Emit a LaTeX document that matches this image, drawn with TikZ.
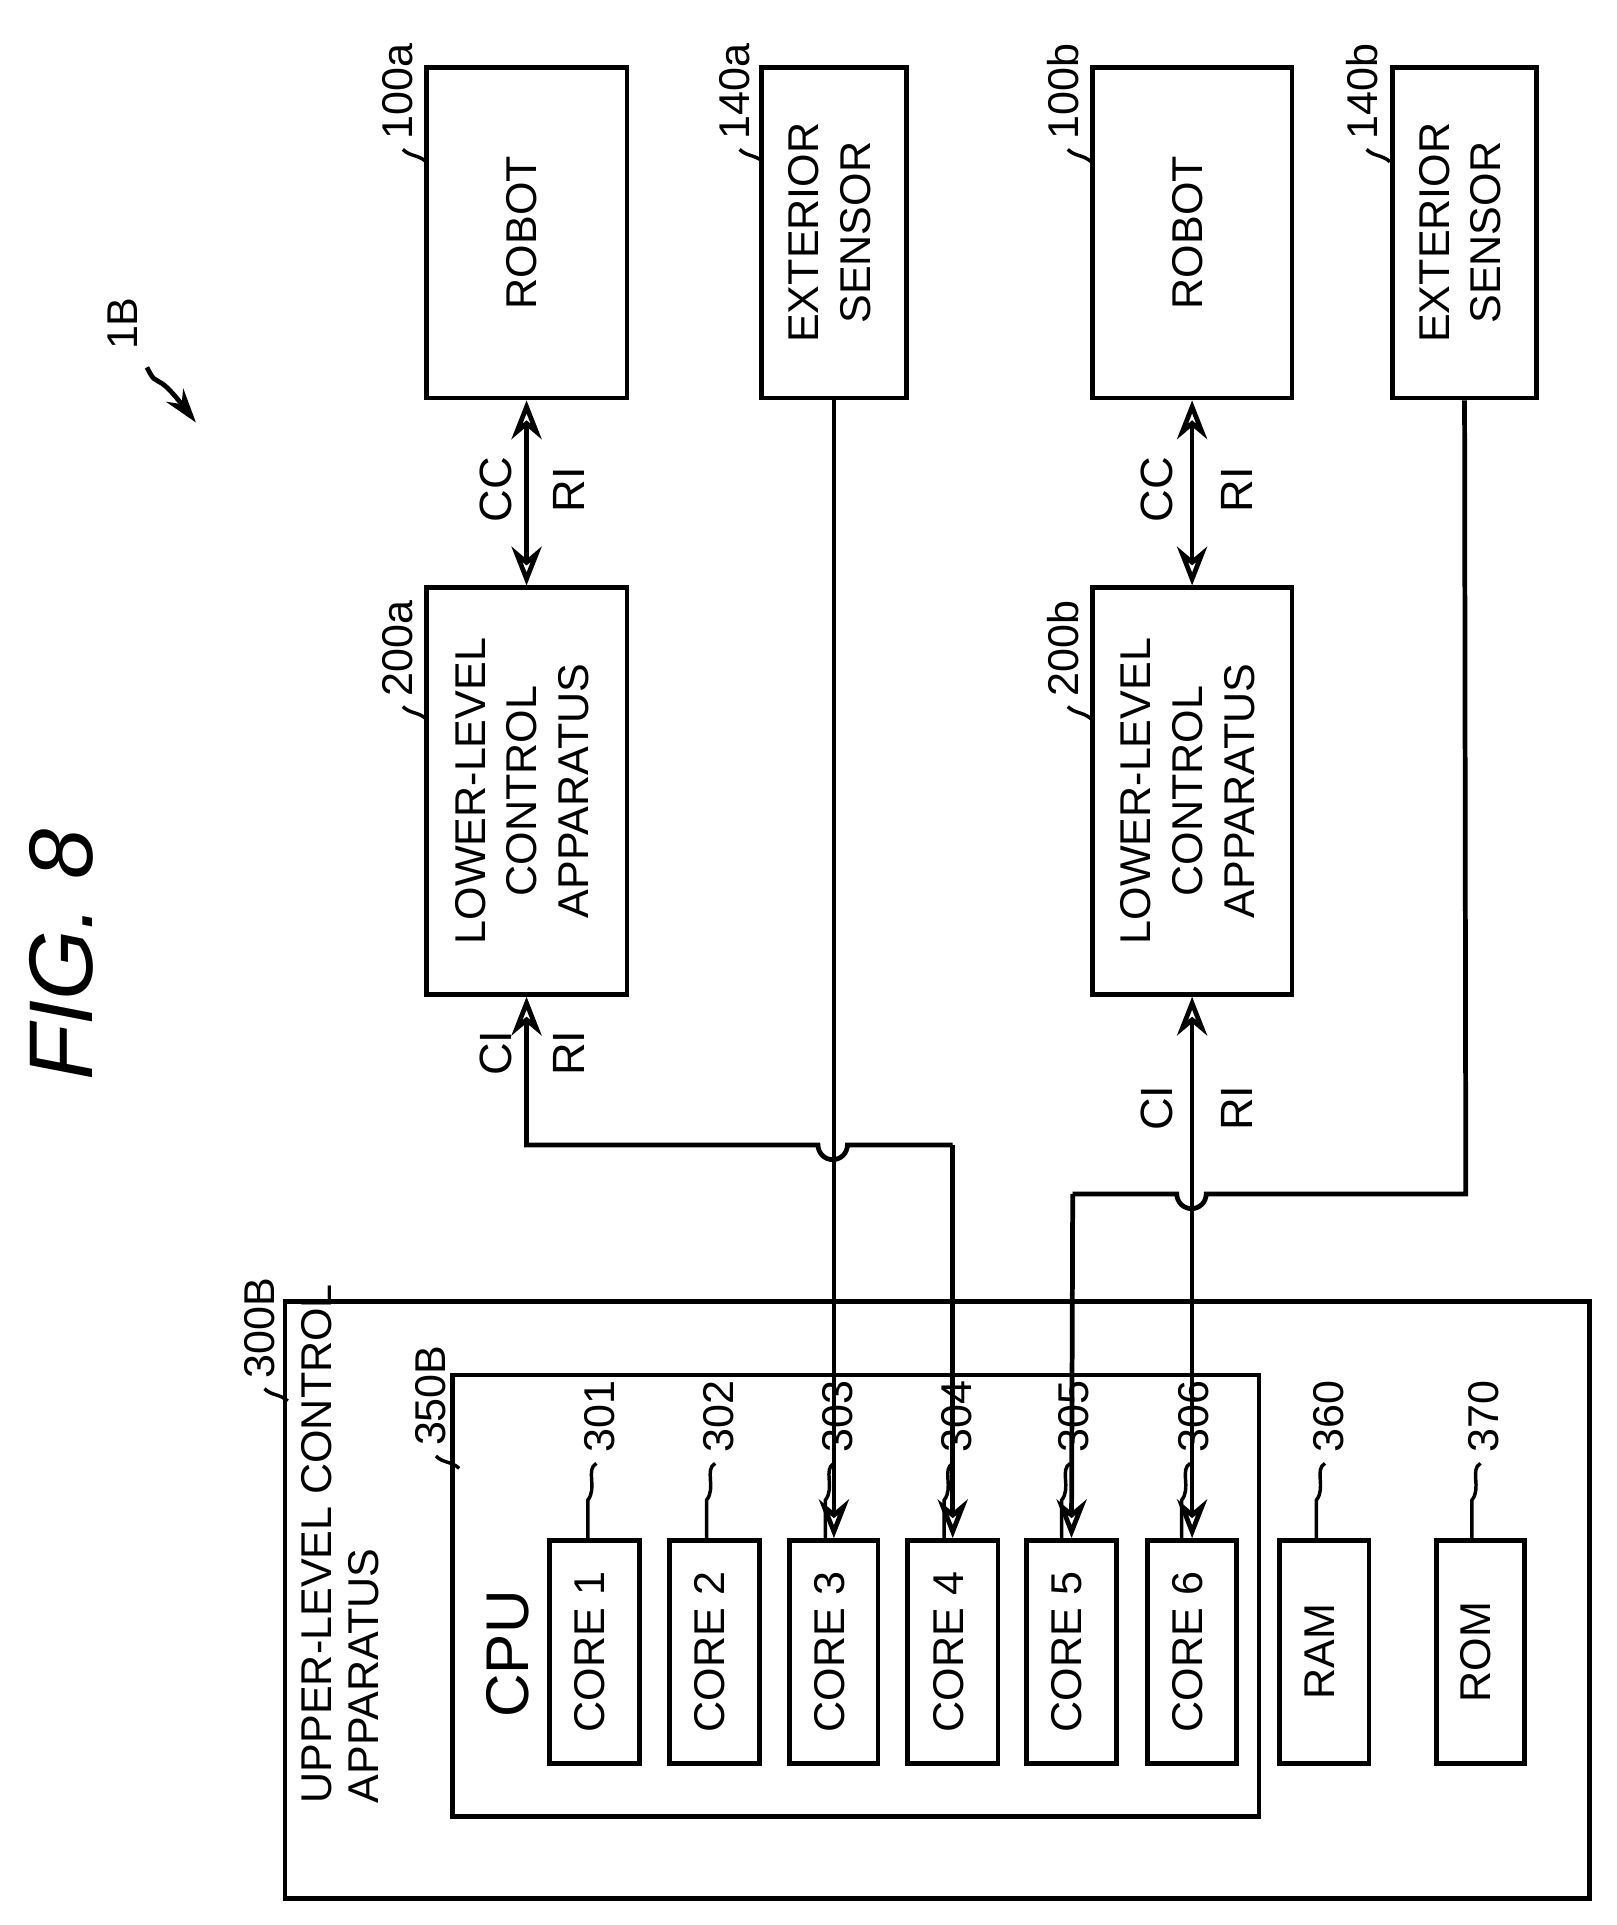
\documentclass[tikz,border=0pt]{standalone}
\usepackage{fontspec}
\setmainfont{Liberation Sans}
\usetikzlibrary{arrows.meta}
\begin{document}
\begin{tikzpicture}[x=0.01cm,y=-0.01cm,
 box/.style={draw,line width=1.1pt,inner sep=0pt,align=center,font=\fontsize{10}{12}\selectfont},
 lab/.style={rotate=90,font=\fontsize{10.5}{12.5}\selectfont},
 ref/.style={rotate=90,font=\fontsize{10}{12}\selectfont,anchor=west,inner sep=1pt},
 ln/.style={line width=1.1pt},
 arr/.style={ln,-{Stealth[length=9pt,width=7pt,open]}},
 darr/.style={ln,{Stealth[length=9pt,width=7pt,open]}-{Stealth[length=9pt,width=7pt,open]}}]
\useasboundingbox (0,0) rectangle (1320,1572);
\def\bx#1#2#3#4#5#6{\node[box,minimum width={(#4-#2)*0.01cm},minimum height={(#5-#3)*0.01cm}] (#1) at ({(#2+#4)/2},{(#3+#5)/2}) {\rotatebox{90}{\begin{tabular}{c}#6\end{tabular}}};}
% outer boxes
\node[draw,line width=1.1pt,minimum width=10.65cm,minimum height=4.87cm] (up) at (765.5,1306.5) {};
\node[draw,line width=1.1pt,minimum width=6.58cm,minimum height=3.6cm] (cpu) at (699,1303) {};
\node[lab,anchor=west,align=left,font=\fontsize{10}{11}\selectfont] (uptxt) at (278,1485) {UPPER-LEVEL CONTROL\\APPARATUS};
\node[lab,font=\fontsize{14}{16}\selectfont,anchor=west] (cputxt) at (415,1415) {CPU};
\bx{c1}{449}{1258}{522}{1440}{CORE 1}
\bx{c2}{547}{1258}{620}{1440}{CORE 2}
\bx{c3}{645}{1258}{717}{1440}{CORE 3}
\bx{c4}{741}{1258}{815}{1440}{CORE 4}
\bx{c5}{838}{1258}{912}{1440}{CORE 5}
\bx{c6}{937}{1258}{1010}{1440}{CORE 6}
\bx{ram}{1045}{1258}{1118}{1440}{RAM}
\bx{rom}{1173}{1258}{1245}{1440}{ROM}
\bx{ra}{348}{55}{512}{325}{ROBOT}
\bx{sa}{622}{55}{740}{325}{EXTERIOR\\SENSOR}
\bx{rb}{892}{55}{1055}{325}{ROBOT}
\bx{sb}{1137}{55}{1255}{325}{EXTERIOR\\SENSOR}
\bx{la}{348}{480}{512}{812}{LOWER-LEVEL\\CONTROL\\APPARATUS}
\bx{lb}{892}{480}{1055}{812}{LOWER-LEVEL\\CONTROL\\APPARATUS}
% title
\node[rotate=90,font=\itshape\fontsize{21}{23}\selectfont] (fig) at (50,780) {FIG. 8};
\node[ref] (n1b) at (100,290) {1B};
\coordinate (p1b) at (160,345);
\draw[ln,-{Stealth[length=8pt,width=5pt]}] (120,300) .. controls (130,320) and (125,300) .. (p1b);
% reference numerals
\foreach \n/\x/\y/\t in {r100a/325/118/100a,r140a/600/118/140a,r100b/868/118/100b,r140b/1112/118/140b,r200a/325/573/200a,r200b/868/573/200b,r300b/212/1130/300B,r350b/352/1185/350B}{
 \node[ref] (\n) at (\x,\y) {\t};
 \draw[line width=0.8pt] (\x+4,\y+4) .. controls (\x+10,\y+10) and (\x+16,\y+8) .. (\x+23,\y+14);}
\foreach \n/\x/\t in {k1/490/301,k2/587/302,k3/684/303,k4/781/304,k5/877/305,k6/975/306,k7/1085/360,k8/1212/370}{
 \node[ref] (\n) at (\x,1190) {\t};
 \draw[line width=0.8pt] (\x-3,1195) .. controls (\x-12,1200) and (\x-2,1215) .. (\x-10,1225) -- (\x-10,1258);}
% connectors
\draw[darr] (ra.south) -- (la.north);
\draw[darr] (rb.south) -- (lb.north);
\node[lab] (cca) at (405,400) {CC}; \node[lab] (ria) at (465,400) {RI};
\node[lab] (ccb) at (945,400) {CC}; \node[lab] (rib) at (1010,400) {RI};
\node[lab] (cia) at (405,860) {CI}; \node[lab] (ria2) at (465,860) {RI};
\node[lab] (cib) at (945,905) {CI}; \node[lab] (rib2) at (1010,905) {RI};
\coordinate (a1) at (430,935); \coordinate (a2) at (778,935);
\draw[ln,{Stealth[length=9pt,width=7pt,open]}-] (la.south) -- (a1) -- (668,935) arc (180:0:12) -- (a2);
\draw[arr] (a2) -- (c4.north);
\draw[arr] (sa.south) -- (c3.north);
\draw[darr] (lb.south) -- (c6.north);
\coordinate (b1) at (1197,975); \coordinate (b2) at (876,975);
\draw[ln] (sb.south) -- (b1) -- (985,975) arc (0:180:12) -- (b2);
\draw[arr] (b2) -- (c5.north);
\end{tikzpicture}
\end{document}
